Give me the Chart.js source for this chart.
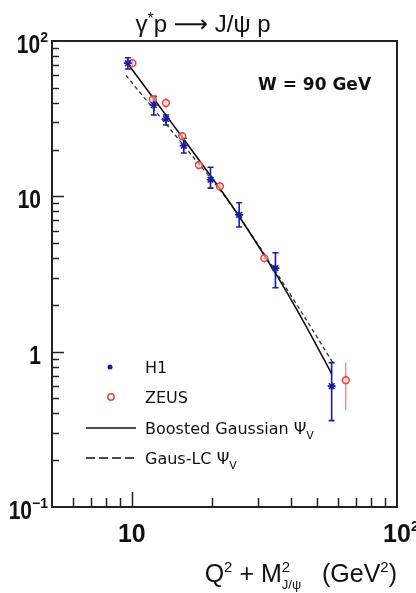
<!DOCTYPE html>
<html lang="en">
<head>
<meta charset="UTF-8">
<title>gamma* p -> J/psi p, W = 90 GeV</title>
<style>
    html, body { margin: 0; padding: 0; background: #fff; }
    canvas { display: block; }
</style>
<script src="https://cdn.jsdelivr.net/npm/chart.js"></script>
</head>
<body>
<canvas id="psiChart" width="416" height="593"></canvas>
<script>
    // H1 measurements (value + lower/upper end of error bar)
    const h1X  = [9.66, 12.1, 13.45, 15.7, 19.8, 25.4, 34.8, 56.7];
    const h1Y  = [72, 38.7, 31.5, 21.2, 12.8, 7.6, 3.45, 0.60];
    const h1Lo = [66, 33.4, 28.8, 19.0, 11.3, 6.35, 2.58, 0.36];
    const h1Hi = [78, 44, 33.4, 23.7, 15.4, 9.1, 4.33, 0.85];

    // ZEUS measurements
    const zeusX  = [10.05, 12.0, 13.45, 15.5, 17.9, 21.5, 31.6, 64.1];
    const zeusY  = [72, 42, 39.9, 24.4, 15.9, 11.6, 4.0, 0.655];
    const zeusLo = [68, 39, 37, 22.8, 14.9, 10.8, 3.75, 0.42];
    const zeusHi = [76, 45, 43, 26, 17, 12.4, 4.25, 0.85];

    // model curves
    const bgX = [9.8, 12.2, 15.5, 21.5, 25.3, 34.8, 45, 56.7];
    const bgY = [69, 41.7, 24.0, 11.2, 7.5, 3.2, 1.5, 0.72];
    const lcX = [9.5, 12.0, 15.5, 21.5, 25.3, 34.8, 45, 57.5];
    const lcY = [60, 37, 21.8, 11.0, 7.5, 3.3, 1.65, 0.84];

    // axis ranges and tick labels
    const xRange = [5, 100];
    const yRange = [0.1, 100];
    const xTickValues = [10, 100];
    const xTickLabels = [['10', ''], ['10', '2']];
    const yTickValues = [0.1, 1, 10, 100];
    const yTickLabels = [['10', '\u22121'], ['1', ''], ['10', ''], ['10', '2']];

    const SANS = "'Liberation Sans', Arial, sans-serif";
    const WIDE = "'DejaVu Sans', sans-serif";

    const toPoints = (xs, ys) => xs.map((v, i) => ({ x: v, y: ys[i] }));

    // text pieces in a row (sup/sub via dy, optional horizontal squeeze sx)
    function partWidth(ctx, p) {
        ctx.font = p.font;
        return (ctx.measureText(p.t).width + (p.gap || 0)) * (p.sx || 1);
    }
    function richWidth(ctx, parts) {
        let w = 0, held = 0;
        parts.forEach(p => {
            const pw = partWidth(ctx, p);
            if (p.hold) { held = pw; return; }
            w += Math.max(pw, held);
            held = 0;
        });
        return w;
    }
    function drawRich(ctx, parts, x, y, align) {
        const total = richWidth(ctx, parts);
        let cx = align === 'right' ? x - total : align === 'center' ? x - total / 2 : x;
        let held = 0;
        ctx.textAlign = 'left';
        ctx.textBaseline = 'alphabetic';
        parts.forEach(p => {
            const pw = partWidth(ctx, p);
            ctx.save();
            ctx.translate(cx, y + (p.dy || 0));
            ctx.scale(p.sx || 1, 1);
            ctx.fillText(p.t, 0, 0);
            ctx.restore();
            if (p.hold) { held = pw; return; }
            cx += Math.max(pw, held);
            held = 0;
        });
    }

    const errorSets = [
        { xs: h1X, lo: h1Lo, hi: h1Hi, color: '#1b1ba6', width: 1.6, cap: 3 },
        { xs: zeusX, lo: zeusLo, hi: zeusHi, color: '#ee5a52', width: 1, cap: 0 }
    ];

    const decor = {
        id: 'decor',
        beforeDatasetsDraw(chart) {
            const { ctx, scales: { x, y } } = chart;
            ctx.save();
            errorSets.forEach(s => {
                ctx.strokeStyle = s.color;
                ctx.lineWidth = s.width;
                s.xs.forEach((v, i) => {
                    const px = x.getPixelForValue(v);
                    const top = y.getPixelForValue(s.hi[i]);
                    const bot = y.getPixelForValue(s.lo[i]);
                    ctx.beginPath();
                    ctx.moveTo(px, top);
                    ctx.lineTo(px, bot);
                    if (s.cap) {
                        ctx.moveTo(px - s.cap, top); ctx.lineTo(px + s.cap, top);
                        ctx.moveTo(px - s.cap, bot); ctx.lineTo(px + s.cap, bot);
                    }
                    ctx.stroke();
                });
            });
            ctx.restore();
        },
        afterDraw(chart) {
            const { ctx, chartArea: a, scales: { x, y } } = chart;
            ctx.save();
            ctx.fillStyle = '#111';
            ctx.strokeStyle = '#222';

            // frame
            ctx.lineWidth = 2;
            ctx.strokeRect(a.left, a.top, a.right - a.left, a.bottom - a.top);

            // inward ticks on the left and bottom axes
            ctx.lineWidth = 1.5;
            ctx.beginPath();
            for (let e = -1; e <= 1; e++) {
                for (let m = 1; m <= 9; m++) {
                    const v = m * Math.pow(10, e);
                    if (v <= yRange[0]) continue;
                    const py = Math.round(y.getPixelForValue(v)) + 0.5;
                    ctx.moveTo(a.left, py);
                    ctx.lineTo(a.left + (m === 1 ? 12 : 7), py);
                }
            }
            for (let e = 0; e <= 1; e++) {
                for (let m = 1; m <= 9; m++) {
                    const v = m * Math.pow(10, e);
                    if (v <= xRange[0]) continue;
                    const px = Math.round(x.getPixelForValue(v)) + 0.5;
                    ctx.moveTo(px, a.bottom);
                    ctx.lineTo(px, a.bottom - (m === 1 ? 15 : 9));
                }
            }
            ctx.stroke();

            // y tick labels
            const bigB = 'bold 25px ' + SANS, supB = 'bold 14px ' + SANS;
            yTickValues.forEach((v, i) => {
                const [base, sup] = yTickLabels[i];
                const py = y.getPixelForValue(v) + 12;
                const parts = [{ t: base, font: bigB, sx: 0.84 }];
                if (sup) parts.push({ t: sup, font: supB, dy: -11, gap: 1 });
                drawRich(ctx, parts, sup ? 49 : 41, py, 'right');
            });

            // x tick labels
            xTickValues.forEach((v, i) => {
                const [base, sup] = xTickLabels[i];
                const px = x.getPixelForValue(v);
                ctx.font = bigB;
                const bw = ctx.measureText(base).width;
                const parts = [{ t: base, font: bigB }];
                if (sup) parts.push({ t: sup, font: supB, dy: -11, gap: 1 });
                drawRich(ctx, parts, px - bw / 2, 542, 'left');
            });

            // axis title
            const tf = '25px ' + SANS, ts = '15px ' + SANS, tsub = '13px ' + SANS;
            drawRich(ctx, [
                { t: 'Q', font: tf },
                { t: '2', font: ts, dy: -10 },
                { t: ' + M', font: tf },
                { t: '2', font: ts, dy: -10, hold: true },
                { t: 'J/\u03c8', font: tsub, dy: 7 },
                { t: '   (GeV', font: tf },
                { t: '2', font: ts, dy: -10 },
                { t: ')', font: tf }
            ], a.right, 582, 'right');

            // title
            const hf = '24px ' + SANS;
            drawRich(ctx, [
                { t: '\u03b3', font: hf },
                { t: '*', font: '16px ' + SANS, dy: -8 },
                { t: 'p ', font: hf },
                { t: '\u27f6', font: '24px ' + WIDE },
                { t: ' J/\u03c8 p', font: hf }
            ], 203, 32, 'center');

            // energy label
            ctx.font = 'bold 17px ' + WIDE;
            ctx.textAlign = 'left';
            ctx.fillText('W = 90 GeV', 258, 90);

            // legend
            const lf = '16px ' + WIDE, lsub = '11px ' + WIDE;
            ctx.fillStyle = '#1b1ba6';
            ctx.beginPath(); ctx.arc(110, 367, 2.5, 0, Math.PI * 2); ctx.fill();
            ctx.strokeStyle = '#e8453c'; ctx.lineWidth = 1.5;
            ctx.beginPath(); ctx.arc(111, 397, 3.2, 0, Math.PI * 2); ctx.stroke();
            ctx.strokeStyle = '#111'; ctx.lineWidth = 1.6;
            ctx.beginPath(); ctx.moveTo(86, 428); ctx.lineTo(136, 428); ctx.stroke();
            ctx.setLineDash([9, 4]); ctx.lineWidth = 1.4;
            ctx.beginPath(); ctx.moveTo(86, 458); ctx.lineTo(136, 458); ctx.stroke();
            ctx.setLineDash([]);
            ctx.fillStyle = '#111';
            drawRich(ctx, [{ t: 'H1', font: lf }], 145, 373, 'left');
            drawRich(ctx, [{ t: 'ZEUS', font: lf }], 145, 403, 'left');
            drawRich(ctx, [{ t: 'Boosted Gaussian \u03a8', font: lf }, { t: 'V', font: lsub, dy: 5 }], 145, 434, 'left');
            drawRich(ctx, [{ t: 'Gaus-LC \u03a8', font: lf }, { t: 'V', font: lsub, dy: 5 }], 145, 464, 'left');

            ctx.restore();
        }
    };

    new Chart(document.getElementById('psiChart'), {
        type: 'scatter',
        data: {
            datasets: [
                {
                    label: 'H1',
                    data: toPoints(h1X, h1Y),
                    pointStyle: 'star',
                    pointRadius: 4,
                    borderColor: '#1b1ba6',
                    backgroundColor: '#1b1ba6',
                    borderWidth: 1.6
                },
                {
                    label: 'ZEUS',
                    data: toPoints(zeusX, zeusY),
                    pointStyle: 'circle',
                    pointRadius: 3.4,
                    borderColor: '#e8453c',
                    backgroundColor: 'rgba(255,215,215,0.6)',
                    borderWidth: 1.5
                },
                {
                    label: 'Boosted Gaussian',
                    data: toPoints(bgX, bgY),
                    showLine: true,
                    tension: 0.3,
                    pointRadius: 0,
                    borderColor: '#111',
                    borderWidth: 1.6
                },
                {
                    label: 'Gaus-LC',
                    data: toPoints(lcX, lcY),
                    showLine: true,
                    tension: 0.3,
                    pointRadius: 0,
                    borderColor: '#333',
                    borderWidth: 1.3,
                    borderDash: [4, 3]
                }
            ]
        },
        options: {
            responsive: false,
            animation: false,
            devicePixelRatio: 1,
            layout: { padding: { top: 41, right: 19, left: 0, bottom: 0 } },
            plugins: {
                legend: { display: false },
                tooltip: { enabled: false },
                title: { display: false }
            },
            scales: {
                x: {
                    type: 'logarithmic',
                    min: xRange[0],
                    max: xRange[1],
                    ticks: { display: false },
                    grid: { display: false },
                    border: { display: false },
                    afterFit: s => { s.height = 86; }
                },
                y: {
                    type: 'logarithmic',
                    min: yRange[0],
                    max: yRange[1],
                    ticks: { display: false },
                    grid: { display: false },
                    border: { display: false },
                    afterFit: s => { s.width = 52; }
                }
            }
        },
        plugins: [decor]
    });
</script>
</body>
</html>
